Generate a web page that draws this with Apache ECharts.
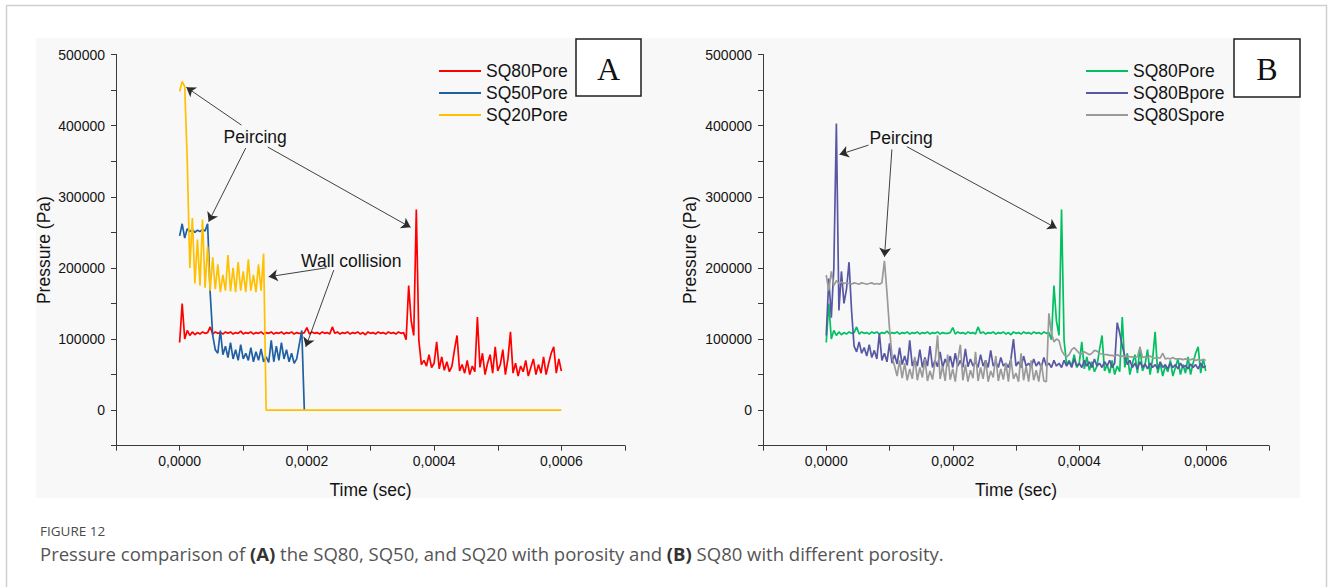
<!DOCTYPE html>
<html>
<head>
<meta charset="utf-8">
<title>Pressure comparison</title>
<script src="https://cdn.jsdelivr.net/npm/echarts@6/dist/echarts.min.js"></script>
<style>
  html, body { margin: 0; padding: 0; background: #ffffff; }
  #chart { width: 1330px; height: 587px; }
</style>
</head>
<body>
<div id="chart"></div>
<script>
// Sample times (microseconds), shared by all pressure traces
const timeUs = [
  0, 4, 8, 12, 16, 20, 24, 28, 32, 36,
  40, 44, 48, 52, 56, 60, 64, 68, 72, 76,
  80, 84, 88, 92, 96, 100, 104, 108, 112, 116,
  120, 124, 128, 132, 136, 140, 144, 148, 152, 156,
  160, 164, 168, 172, 176, 180, 184, 188, 192, 196,
  200, 204, 208, 212, 216, 220, 224, 228, 232, 236,
  240, 244, 248, 252, 256, 260, 264, 268, 272, 276,
  280, 284, 288, 292, 296, 300, 304, 308, 312, 316,
  320, 324, 328, 332, 336, 340, 344, 348, 352, 356,
  360, 364, 368, 372, 376, 380, 384, 388, 392, 396,
  400, 404, 408, 412, 416, 420, 424, 428, 432, 436,
  440, 444, 448, 452, 456, 460, 464, 468, 472, 476,
  480, 484, 488, 492, 496, 500, 504, 508, 512, 516,
  520, 524, 528, 532, 536, 540, 544, 548, 552, 556,
  560, 564, 568, 572, 576, 580, 584, 588, 592, 596,
  600
];

// Pressure traces (kPa)
const sq80PoreKPa = [
  95, 150, 100, 112, 105, 110, 106, 109, 107, 110,
  108, 109, 117, 107, 110, 108, 109, 107, 110, 108,
  110, 107, 109, 108, 111, 107, 109, 108, 110, 107,
  109, 108, 110, 107, 109, 108, 110, 107, 109, 108,
  110, 107, 109, 108, 110, 107, 109, 108, 108, 109,
  116, 107, 110, 108, 109, 107, 110, 108, 109, 107,
  117, 108, 110, 107, 109, 108, 110, 107, 109, 108,
  110, 107, 109, 106, 110, 108, 109, 107, 110, 108,
  109, 107, 110, 108, 109, 107, 110, 108, 109, 99,
  175, 125, 105, 282, 98, 64, 70, 62, 78, 60,
  66, 96, 58, 75, 56, 68, 54, 62, 85, 105,
  55, 64, 52, 70, 50, 62, 54, 131, 60, 80,
  50, 66, 78, 52, 89, 55, 64, 85, 50, 72,
  110, 52, 66, 48, 62, 54, 70, 48, 60, 72,
  50, 64, 52, 75, 50, 66, 80, 89, 52, 72,
  55
];

const sq50PoreKPa = [
  245, 262, 242, 255, 251, 254, 250, 253, 251, 254,
  252, 262, 165, 105, 85, 80, 112, 78, 90, 74,
  95, 72, 85, 70, 92, 72, 80, 70, 88, 68,
  82, 70, 86, 68, 75, 67, 98, 68, 90, 70,
  95, 72, 85, 68, 80, 66, 72, 92, 112, 0
];

const sq20PoreKPa = [
  448, 462, 455, 350, 200, 270, 178, 240, 175, 268,
  172, 230, 168, 215, 170, 205, 166, 190, 168, 218,
  167, 200, 166, 208, 168, 195, 166, 212, 168, 190,
  166, 205, 168, 220, 0, 0, 0, 0, 0, 0,
  0, 0, 0, 0, 0, 0, 0, 0, 0, 0,
  0, 0, 0, 0, 0, 0, 0, 0, 0, 0,
  0, 0, 0, 0, 0, 0, 0, 0, 0, 0,
  0, 0, 0, 0, 0, 0, 0, 0, 0, 0,
  0, 0, 0, 0, 0, 0, 0, 0, 0, 0,
  0, 0, 0, 0, 0, 0, 0, 0, 0, 0,
  0, 0, 0, 0, 0, 0, 0, 0, 0, 0,
  0, 0, 0, 0, 0, 0, 0, 0, 0, 0,
  0, 0, 0, 0, 0, 0, 0, 0, 0, 0,
  0, 0, 0, 0, 0, 0, 0, 0, 0, 0,
  0, 0, 0, 0, 0, 0, 0, 0, 0, 0,
  0
];

const sq80BporeKPa = [
  105, 185, 130, 200, 403, 140, 195, 150, 170, 208,
  140, 90, 82, 96, 80, 88, 76, 92, 74, 84,
  72, 108, 70, 80, 68, 94, 66, 78, 65, 88,
  64, 76, 63, 98, 62, 72, 62, 85, 60, 74,
  62, 90, 60, 70, 61, 82, 60, 72, 62, 76,
  60, 80, 62, 70, 60, 86, 61, 72, 62, 68,
  60, 78, 62, 70, 60, 84, 62, 68, 60, 74,
  62, 66, 60, 72, 100, 62, 68, 60, 76, 62,
  66, 60, 72, 62, 68, 60, 74, 62, 66, 60,
  70, 62, 66, 60, 70, 62, 68, 60, 72, 62,
  66, 60, 70, 62, 68, 60, 72, 62, 66, 60,
  68, 62, 70, 60, 66, 123, 108, 90, 76, 64,
  70, 60, 66, 58, 68, 60, 65, 58, 66, 60,
  64, 58, 68, 60, 64, 58, 66, 60, 64, 58,
  66, 60, 63, 58, 65, 60, 64, 58, 66, 60,
  62
];

const sq80SporeKPa = [
  190, 168, 195, 175, 182, 178, 180, 178, 179, 178,
  177, 179, 178, 177, 179, 178, 177, 178, 179, 177,
  178, 177, 179, 210, 165, 115, 75, 62, 48, 70,
  45, 66, 42, 58, 44, 75, 42, 60, 46, 72,
  41, 55, 43, 68, 105, 44, 62, 41, 78, 43,
  58, 40, 70, 92, 42, 64, 40, 56, 45, 82,
  41, 60, 44, 70, 40, 55, 46, 76, 41, 58,
  43, 66, 40, 72, 44, 52, 40, 80, 42, 62,
  40, 70, 42, 56, 40, 66, 41, 40, 136, 108,
  96, 100, 98, 84, 78, 75, 78, 85, 88, 84,
  80, 79, 82, 80, 78, 80, 84, 83, 80, 79,
  78, 78, 77, 77, 76, 78, 76, 76, 75, 76,
  75, 75, 74, 75, 88, 74, 75, 74, 76, 74,
  73, 74, 73, 80, 72, 73, 72, 74, 72, 72,
  72, 71, 72, 71, 71, 72, 70, 71, 70, 71,
  70
];

// Callout text: [label, time µs, pressure kPa]
const calloutLabelsA = [['Peircing', 118.8, 384], ['Wall collision', 269.9, 210]];
const calloutLabelsB = [['Peircing', 118.4, 382]];
// Callout arrows: [fromTimeUs, fromKPa, toTimeUs, toKPa]
const arrowsA = [
  [97.1, 400.8, 10.5, 453.9],
  [103.9, 368.5, 45.6, 264.8],
  [138.5, 369.9, 363.0, 257.0],
  [230.8, 200.1, 140.0, 187.5],
  [242.3, 196.9, 198.3, 89.0]
];
const arrowsB = [
  [66.8, 372.6, 21.0, 359.4],
  [103.8, 366.6, 92.1, 215.5],
  [127.5, 370.4, 364.4, 255.6]
];

const SANS = '"Liberation Sans", Arial, Helvetica, sans-serif';
const INK = '#141414';
const AXIS = '#3a3a3a';
const ARROW = '#2b2b2b';

function toPoints(valsKPa) {
  return valsKPa.map((v, i) => [timeUs[i] * 1e-6, v * 1000]);
}

function fmtTime(v) {
  const k = Math.round(v * 1e4);
  if (k < 0 || k % 2 !== 0 || k > 6) return '';
  return (k / 1e4).toFixed(4).replace('.', ',');
}

function fmtPressure(v) {
  if (v < 0 || v % 100000 !== 0) return '';
  return String(v);
}

function xAxisFor(gridIndex) {
  return {
    type: 'value', gridIndex: gridIndex,
    min: -0.0001, max: 0.0007, interval: 0.0001,
    name: 'Time (sec)', nameLocation: 'middle', nameGap: 35,
    nameTextStyle: { fontSize: 17.5, color: INK, fontFamily: SANS },
    axisLine: { show: true, onZero: false, lineStyle: { color: AXIS, width: 1 } },
    axisTick: { show: true, inside: false, length: 5, lineStyle: { color: AXIS, width: 1 } },
    axisLabel: { formatter: fmtTime, fontSize: 14, color: INK, fontFamily: SANS, margin: 8, hideOverlap: false },
    splitLine: { show: false }
  };
}

function yAxisFor(gridIndex, gap) {
  return {
    type: 'value', gridIndex: gridIndex,
    min: -50000, max: 500000, interval: 50000,
    name: 'Pressure (Pa)', nameLocation: 'middle', nameGap: gap, nameRotate: 90,
    nameTextStyle: { fontSize: 17.5, color: INK, fontFamily: SANS },
    axisLine: { show: true, onZero: false, lineStyle: { color: AXIS, width: 1 } },
    axisTick: { show: true, inside: false, length: 5, lineStyle: { color: AXIS, width: 1 } },
    axisLabel: { formatter: fmtPressure, fontSize: 14, color: INK, fontFamily: SANS, margin: 11, hideOverlap: false },
    splitLine: { show: false }
  };
}

function trace(name, valsKPa, color, gridIndex) {
  return {
    type: 'line', name: name,
    xAxisIndex: gridIndex, yAxisIndex: gridIndex,
    data: toPoints(valsKPa),
    showSymbol: false, symbol: 'none',
    lineStyle: { color: color, width: 1.7 },
    itemStyle: { color: color },
    emphasis: { disabled: true },
    animation: false
  };
}

function arrowMarks(arrows) {
  return {
    silent: true, animation: false,
    symbol: ['none', 'arrow'], symbolSize: 9,
    label: { show: false },
    emphasis: { disabled: true },
    itemStyle: { color: ARROW },
    lineStyle: { color: ARROW, width: 0.9, type: 'solid', opacity: 1 },
    data: arrows.map(a => [
      { coord: [a[0] * 1e-6, a[1] * 1000] },
      { coord: [a[2] * 1e-6, a[3] * 1000] }
    ])
  };
}

function labelMarks(labels) {
  return {
    silent: true, animation: false,
    symbol: 'circle', symbolSize: 1,
    itemStyle: { color: 'rgba(0,0,0,0)' },
    label: { show: true, position: 'inside', formatter: '{b}', fontSize: 17.5, color: INK, fontFamily: SANS },
    emphasis: { disabled: true },
    data: labels.map(l => ({ name: l[0], coord: [l[1] * 1e-6, l[2] * 1000] }))
  };
}

const COLORS = {
  sq80: '#ff0000', sq50: '#1f60a3', sq20: '#ffc000',
  sq80b: '#00c060', bpore: '#5857a3', spore: '#9a9a9a'
};

const legendBase = {
  orient: 'vertical', top: 55, itemWidth: 42, itemHeight: 2, itemGap: 0,
  icon: 'rect', selectedMode: false,
  textStyle: { fontSize: 17.5, color: INK, fontFamily: SANS, lineHeight: 22 }
};

function panelTag(letter, x, y, w, h) {
  return {
    type: 'group', z: 50, silent: true,
    children: [
      { type: 'rect', shape: { x: x, y: y, width: w, height: h },
        style: { fill: '#ffffff', stroke: '#1e1e1e', lineWidth: 1.5 } },
      { type: 'text', x: x + w / 2, y: y + h / 2 + 1,
        style: { text: letter, fontSize: 32, fontFamily: '"Liberation Serif", "Times New Roman", serif',
                 fill: '#111', textAlign: 'center', textVerticalAlign: 'middle',
                 align: 'center', verticalAlign: 'middle' } }
    ]
  };
}

const chart = echarts.init(document.getElementById('chart'), null, { renderer: 'svg', width: 1330, height: 587 });

const sq20Series = trace('SQ20Pore', sq20PoreKPa, COLORS.sq20, 0);
sq20Series.markLine = arrowMarks(arrowsA);
sq20Series.markPoint = labelMarks(calloutLabelsA);

const sporeSeries = trace('SQ80Spore', sq80SporeKPa, COLORS.spore, 1);
sporeSeries.markLine = arrowMarks(arrowsB);
sporeSeries.markPoint = labelMarks(calloutLabelsB);

chart.setOption({
  animation: false,
  backgroundColor: '#ffffff',
  grid: [
    { left: 116, top: 54.5, width: 509, height: 391.2, containLabel: false },
    { left: 763, top: 54.5, width: 506, height: 391.2, containLabel: false }
  ],
  xAxis: [xAxisFor(0), xAxisFor(1)],
  yAxis: [yAxisFor(0, 63), yAxisFor(1, 64)],
  legend: [
    Object.assign({}, legendBase, { left: 434, data: ['SQ80Pore', 'SQ50Pore', 'SQ20Pore'] }),
    Object.assign({}, legendBase, { left: 1081, data: [
      { name: 'SQ80Pore', itemStyle: { color: COLORS.sq80b } }, 'SQ80Bpore', 'SQ80Spore'
    ] })
  ],
  graphic: [
    { type: 'rect', z: -20, silent: true, shape: { x: 6.5, y: 5.5, width: 1320, height: 700 },
      style: { fill: '#ffffff', stroke: '#d0d0d0', lineWidth: 1.5 } },
    { type: 'rect', z: -19, silent: true, shape: { x: 36, y: 38, width: 1264, height: 460 },
      style: { fill: '#f8f8f8' } },
    panelTag('A', 576, 39, 65, 57),
    panelTag('B', 1234, 39, 66, 58),
    { type: 'text', silent: true, x: 40, y: 531,
      style: { text: 'FIGURE 12', fontSize: 13.5, fontFamily: '"Open Sans", sans-serif', fill: '#4a4a4a',
               textVerticalAlign: 'middle', verticalAlign: 'middle' } },
    { type: 'text', silent: true, x: 40, y: 553,
      style: {
        text: 'Pressure comparison of {b|(A)} the SQ80, SQ50, and SQ20 with porosity and {b|(B)} SQ80 with different porosity.',
        fontSize: 18.5, fontFamily: '"Open Sans", sans-serif', fill: '#555555',
        textVerticalAlign: 'middle', verticalAlign: 'middle',
        rich: { b: { fontSize: 18.5, fontFamily: '"Open Sans", sans-serif', fontWeight: 'bold', fill: '#333333', color: '#333333' } }
      } }
  ],
  series: [
    trace('SQ80Pore', sq80PoreKPa, COLORS.sq80, 0),
    trace('SQ50Pore', sq50PoreKPa, COLORS.sq50, 0),
    sq20Series,
    trace('SQ80Pore', sq80PoreKPa, COLORS.sq80b, 1),
    trace('SQ80Bpore', sq80BporeKPa, COLORS.bpore, 1),
    sporeSeries
  ]
});
</script>
</body>
</html>
